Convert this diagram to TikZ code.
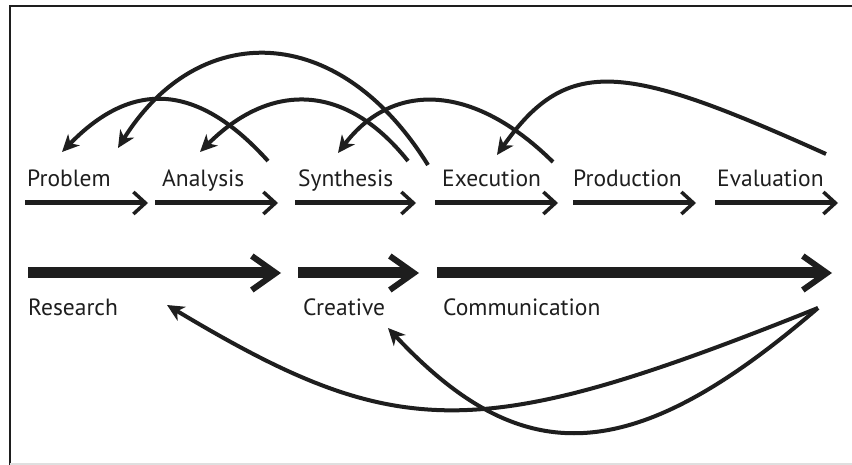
\documentclass[tikz,border=0pt]{standalone}
\usepackage{fontspec}
\setmainfont{PT Sans}
\usetikzlibrary{arrows.meta}
\definecolor{ink}{HTML}{1E1E1E}
\tikzset{
  lbl/.style={anchor=base west, inner sep=0pt, text=ink, font=\fontsize{23.5}{28}\selectfont},
  steparrow/.style={draw=ink, line width=5pt, -{Straight Barb[length=12pt,width=22pt,line width=3.5pt]}},
  phasearrow/.style={draw=ink, line width=11pt, -{Straight Barb[length=24pt,width=34pt,line width=6pt]}},
  loop/.style={draw=ink, line width=4pt, -{Stealth[length=17pt,width=16pt,inset=5pt]}},
}
\begin{document}
\begin{tikzpicture}[x=1pt,y=-1pt]
\useasboundingbox (0,0) rectangle (852,465);
\fill[white] (0,0) rectangle (852,465);
% frame
\draw[ink, line width=2.5pt] (10,465) -- (10,6) -- (852,6);
\draw[gray!25, line width=2pt] (10,463.5) -- (852,463.5);

% step labels
\node[lbl] (problem) at (27,187) {Problem};
\node[lbl] (analysis) at (162,187) {Analysis};
\node[lbl] (synthesis) at (298,187) {Synthesis};
\node[lbl] (execution) at (442,187) {Execution};
\node[lbl] (production) at (573,187) {Production};
\node[lbl] (evaluation) at (717,187) {Evaluation};
% phase labels
\node[lbl] (research) at (28,316) {Research};
\node[lbl] (creative) at (303,316) {Creative};
\node[lbl] (communication) at (443,316) {Communication};

% step arrows
\coordinate (s1a) at (25,203);  \coordinate (s1b) at (148,203);
\coordinate (s2a) at (155,203); \coordinate (s2b) at (278,203);
\coordinate (s3a) at (295,203); \coordinate (s3b) at (416,203);
\coordinate (s4a) at (435,203); \coordinate (s4b) at (558,203);
\coordinate (s5a) at (573,203); \coordinate (s5b) at (696,203);
\coordinate (s6a) at (715,203); \coordinate (s6b) at (838,203);
\draw[steparrow] (s1a) -- (s1b);
\draw[steparrow] (s2a) -- (s2b);
\draw[steparrow] (s3a) -- (s3b);
\draw[steparrow] (s4a) -- (s4b);
\draw[steparrow] (s5a) -- (s5b);
\draw[steparrow] (s6a) -- (s6b);

% phase arrows
\coordinate (p1a) at (28,273);  \coordinate (p1b) at (281,273);
\coordinate (p2a) at (298,273); \coordinate (p2b) at (419,273);
\coordinate (p3a) at (437,273); \coordinate (p3b) at (832,273);
\draw[phasearrow] (p1a) -- (p1b);
\draw[phasearrow] (p2a) -- (p2b);
\draw[phasearrow] (p3a) -- (p3b);

% feedback loops (top)
\coordinate (aS) at (268,161); \coordinate (aE) at (62,152);
\coordinate (bS) at (428,165); \coordinate (bE) at (118,148);
\coordinate (cS) at (408,161); \coordinate (cE) at (200,152);
\coordinate (dS) at (553,162); \coordinate (dE) at (338,153);
\coordinate (eS) at (826,154); \coordinate (eE) at (497,155);
\draw[loop] (aS) .. controls (195,80) and (130,82) .. (aE);
\draw[loop] (bS) .. controls (338,20) and (198,20) .. (bE);
\draw[loop] (cS) .. controls (345,82) and (270,82) .. (cE);
\draw[loop] (dS) .. controls (472,82) and (392,82) .. (dE);
\draw[loop] (eS) .. controls (626,64) and (568,54) .. (eE);

% feedback loops (bottom)
\coordinate (fS) at (818,308); \coordinate (fE) at (167,305);
\coordinate (gE) at (388,328);
\draw[loop] (fS) .. controls (478,444) and (399,444) .. (fE);
\draw[loop] (fS) .. controls (630,470) and (521,470) .. (gE);
\end{tikzpicture}
\end{document}
